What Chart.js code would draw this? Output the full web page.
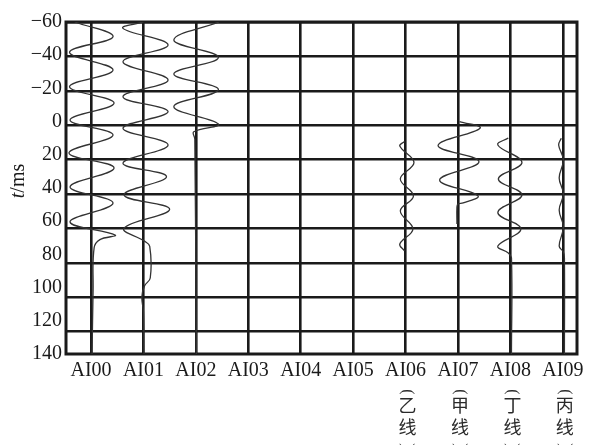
<!DOCTYPE html>
<html>
<head>
<meta charset="utf-8">
<script src="https://cdn.jsdelivr.net/npm/chart.js@4"></script>
<style>
  body { margin: 0; background: #fff; }
  #wrap { width: 589px; height: 445px; }
</style>
</head>
<body>
<div id="wrap"><canvas id="traceChart"></canvas></div>
<script>
const categories = ["AI00", "AI01", "AI02", "AI03", "AI04", "AI05", "AI06", "AI07", "AI08", "AI09"];
const lineNames = { 6: "乙线", 7: "甲线", 8: "丁线", 9: "丙线" };
const yTickLabels = [-60, -40, -20, 0, 20, 40, 60, 80, 100, 120, 140];
const gridTimes = [-60, -40, -20, 0, 20, 40, 60, 80, 100, 120];

// time (ms) and trace offset (in channel widths) for each recorded trace
const ai00Time = [-60, -51.5, -42.4, -32.1, -22.4, -12.9, -3, 5.7, 16.1, 24.9, 35.9, 45.2, 56.2, 63.8, 66.5, 71.2, 95.8, 133];
const ai00Amp = [-0.31, 0.42, -0.41, 0.42, -0.41, 0.44, -0.40, 0.42, -0.42, 0.44, -0.40, 0.42, -0.40, 0.46, 0.17, 0.06, 0.04, 0.02];

const ai01Time = [-60, -56.3, -46.6, -36.9, -26.3, -16.6, -7.9, 1.8, 11.5, 22.1, 29.9, 40.5, 48.9, 59.9, 67.4, 70.4, 88.8, 93.4, 99.8, 108.5, 133];
const ai01Amp = [0, -0.39, 0.47, -0.39, 0.47, -0.39, 0.47, -0.39, 0.47, -0.39, 0.44, -0.37, 0.50, -0.37, 0.02, 0.12, 0.13, 0.02, -0.03, 0, 0.01];

const ai02Time = [-60, -49.5, -39.4, -29.8, -20.7, -10.8, -0.7, 3.8, 8, 133];
const ai02Amp = [0.44, -0.42, 0.43, -0.42, 0.43, -0.42, 0.43, -0.04, -0.02, 0.01];

const ai06Time = [9.5, 12.1, 21.7, 31.2, 41.1, 49.8, 60.3, 69.0, 73.1];
const ai06Amp = [-0.02, -0.11, 0.16, -0.10, 0.15, -0.10, 0.14, -0.11, -0.02];

const ai07Time = [-2.1, 1.8, 11.8, 21.2, 31.8, 41.0, 45.2, 45.8, 47.6, 57.4];
const ai07Amp = [0.03, 0.42, -0.38, 0.40, -0.35, 0.38, 0.10, 0.0, -0.02, -0.02];

const ai08Time = [7.4, 11.5, 21.7, 31.2, 40.5, 50.7, 60.3, 70.2, 74.3, 77, 133];
const ai08Amp = [-0.04, -0.24, 0.22, -0.23, 0.22, -0.24, 0.20, -0.24, -0.04, 0.02, 0.02];

const ai09Time = [7.6, 11.5, 20.2, 30.7, 40, 49.3, 59.1, 70.2, 73.7, 77, 133];
const ai09Amp = [-0.03, -0.08, 0.01, -0.07, 0.01, -0.07, 0.01, -0.07, 0.01, 0.03, 0.03];

const traces = [
  [0, ai00Time, ai00Amp],
  [1, ai01Time, ai01Amp],
  [2, ai02Time, ai02Amp],
  [6, ai06Time, ai06Amp],
  [7, ai07Time, ai07Amp],
  [8, ai08Time, ai08Amp],
  [9, ai09Time, ai09Amp]
];

const serif = '"Liberation Serif", "Times New Roman", serif';
const ink = "#1a1a1a";

const frame = {
  id: "frame",
  beforeDatasetsDraw(chart) {
    const a = chart.chartArea;
    const ctx = chart.ctx;
    ctx.save();
    ctx.strokeStyle = ink;
    ctx.lineWidth = 3;
    ctx.strokeRect(a.left, a.top, a.right - a.left, a.bottom - a.top);
    ctx.restore();
  }
};

// paren drawn turned a quarter, as in vertical Chinese text
function turnedParen(ctx, ch, x, y) {
  ctx.save();
  ctx.translate(x, y);
  ctx.rotate(Math.PI / 2);
  ctx.font = "16px " + serif;
  ctx.textAlign = "center";
  ctx.textBaseline = "middle";
  ctx.fillText(ch, 0, 0);
  ctx.restore();
}

const extraText = {
  id: "extraText",
  afterDraw(chart) {
    const ctx = chart.ctx;
    ctx.save();
    ctx.fillStyle = ink;
    // axis title: italic t, upright /ms
    ctx.translate(19, 181);
    ctx.rotate(-Math.PI / 2);
    ctx.textBaseline = "middle";
    ctx.font = "italic 20px " + serif;
    const wt = ctx.measureText("t").width;
    ctx.font = "20px " + serif;
    const wr = ctx.measureText("/ms").width;
    const x0 = -(wt + wr) / 2;
    ctx.font = "italic 20px " + serif;
    ctx.fillText("t", x0, 0);
    ctx.font = "20px " + serif;
    ctx.fillText("/ms", x0 + wt, 0);
    ctx.restore();

    // vertical line names under the last four channels
    const xs = chart.scales.x;
    ctx.save();
    ctx.fillStyle = "#2a2a2a";
    Object.keys(lineNames).forEach(k => {
      const px = xs.getPixelForValue(Number(k)) + 2;
      const name = lineNames[k];
      turnedParen(ctx, "(", px, 392);
      ctx.font = '18px "Noto Sans CJK SC"';
      ctx.textAlign = "center";
      ctx.textBaseline = "alphabetic";
      ctx.fillText(name[0], px, 412);
      ctx.fillText(name[1], px, 433.5);
      turnedParen(ctx, ")", px, 446);
    });
    ctx.restore();
  }
};

new Chart(document.getElementById("traceChart"), {
  type: "scatter",
  data: {
    datasets: traces.map(([ch, time, amp]) => ({
      data: time.map((t, i) => ({ x: ch + amp[i], y: t })),
      showLine: true,
      borderColor: "#333",
      borderWidth: 1.3,
      pointRadius: 0,
      tension: 0.4,
      yAxisID: "yg"
    }))
  },
  plugins: [frame, extraText],
  options: {
    responsive: true,
    maintainAspectRatio: false,
    animation: false,
    layout: { padding: { top: 22, right: 12, left: 0, bottom: 0 } },
    plugins: {
      legend: { display: false },
      tooltip: { enabled: false }
    },
    scales: {
      x: {
        type: "linear",
        min: -0.477,
        max: 9.27,
        afterBuildTicks: s => { s.ticks = categories.map((c, i) => ({ value: i })); },
        afterFit: s => { s.height = 91; },
        border: { display: false },
        grid: { color: ink, lineWidth: 2.6, drawTicks: false },
        ticks: {
          padding: 5,
          color: ink,
          font: { family: serif, size: 20 },
          maxRotation: 0,
          callback: v => categories[v]
        }
      },
      y: {
        type: "linear",
        position: "left",
        reverse: true,
        min: -60,
        max: 140,
        afterBuildTicks: s => { s.ticks = yTickLabels.map(v => ({ value: v })); },
        afterFit: s => { s.width = 66; },
        border: { display: false },
        grid: { display: false, drawTicks: false },
        ticks: {
          padding: 4,
          color: ink,
          font: { family: serif, size: 20 },
          callback: v => (v < 0 ? "\u2212" + Math.abs(v) : String(v))
        }
      },
      yg: {
        type: "linear",
        position: "right",
        reverse: true,
        min: -60,
        max: 133,
        afterBuildTicks: s => { s.ticks = gridTimes.map(v => ({ value: v })); },
        afterFit: s => { s.width = 0; },
        border: { display: false },
        grid: { color: ink, lineWidth: 2.6, drawTicks: false },
        ticks: { display: false }
      }
    }
  }
});
</script>
</body>
</html>
